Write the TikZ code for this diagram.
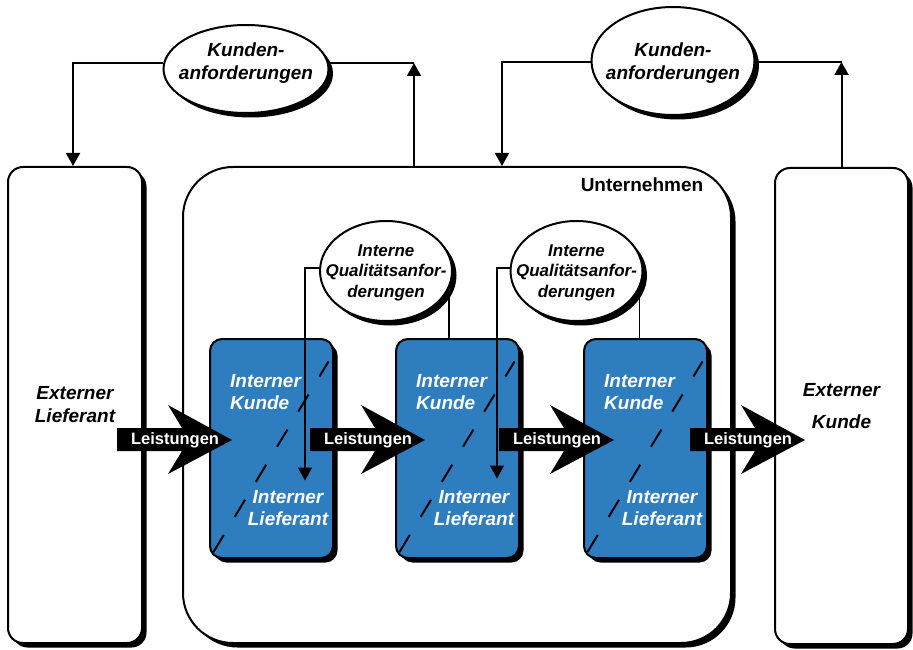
\documentclass[tikz,border=0pt]{standalone}
\usepackage{fontspec}
\setmainfont{Liberation Sans}
\usetikzlibrary{shapes.geometric,shadows,arrows.meta,calc}
\definecolor{boxblue}{HTML}{2E7DBF}
\begin{document}
\begin{tikzpicture}[x=1pt,y=-1pt,
  shad/.style={drop shadow={shadow xshift=4.5pt,shadow yshift=-4.5pt,fill=black,opacity=1}},
  bigtxt/.style={font=\bfseries\itshape\fontsize{19}{23}\selectfont,align=center},
  qtxt/.style={font=\bfseries\itshape\fontsize{17}{20.5}\selectfont,align=center},
  outer/.style={draw,line width=2pt,fill=white,rounded corners=15pt,shad,bigtxt},
  kell/.style={ellipse,draw,line width=2pt,fill=white,shad,inner sep=0pt},
  bluebox/.style={draw,line width=2pt,fill=boxblue,rounded corners=12pt,shad,
    minimum width=123pt,minimum height=219pt},
  wtxt/.style={text=white,font=\bfseries\itshape\fontsize{19}{22}\selectfont,inner sep=0pt},
  dashline/.style={line width=2pt,dash pattern=on 20pt off 21pt},
  conn/.style={line width=2pt},
  iconn/.style={line width=1.5pt},
  tri/.style={-{Triangle[width=14pt,length=13pt]}},
  lst/.style={text=white,font=\bfseries\fontsize{16.5}{20}\selectfont,inner sep=0pt}
]
\useasboundingbox (0,0) rectangle (913,650);

% outer boxes
\node[outer,minimum width=134pt,minimum height=476pt] (el) at (75,405) {Externer\\Lieferant};
\node[outer,rounded corners=50pt,minimum width=548pt,minimum height=476pt] (U) at (457,405) {};
\node[font=\bfseries\fontsize{19}{23}\selectfont,inner sep=0pt] (ut) at (642,185) {Unternehmen};
\node[outer,minimum width=133pt,minimum height=476pt] (ek) at (841.5,406) {Externer\\[9pt]Kunde};

% top ellipses
\node[kell,minimum width=165pt,minimum height=88pt,
  label={[bigtxt,yshift=5.5pt]center:{Kunden-\\anforderungen}}] (k1) at (246,69) {};
\node[kell,minimum width=163pt,minimum height=108pt,
  label={[bigtxt,yshift=-2.5pt]center:{Kunden-\\anforderungen}}] (k2) at (673,61) {};

\coordinate (c1) at (414,63);
\coordinate (c2) at (841.5,62);
\coordinate (d2) at (502,0);
\draw[conn,tri] ($(k1.west)+(0,-6)$) -| ($(el.north)+(-2,0)$);
\draw[conn] ($(k1.east)+(0,-6)$) -- (c1);
\draw[conn,tri] (U.north -| c1) -- (c1);
\draw[conn,tri] ($(k2.west)+(0,1)$) -| (d2 |- U.north);
\draw[conn] ($(k2.east)+(0,1)$) -- (c2);
\draw[conn,tri] (ek.north) -- (c2);

% internal quality ellipses
\node[kell,minimum width=132pt,minimum height=100pt,
  label={[qtxt,yshift=-1.5pt]center:{Interne\\Qualitätsanfor-\\derungen}}] (q1) at (386,271) {};
\node[kell,minimum width=132pt,minimum height=100pt,
  label={[qtxt,yshift=-1.5pt]center:{Interne\\Qualitätsanfor-\\derungen}}] (q2) at (576.5,271) {};

% blue boxes
\node[bluebox] (b1) at (271.5,448.5) {};
\node[bluebox] (b2) at (457.5,448.5) {};
\node[bluebox] (b3) at (645.5,448.5) {};

\foreach \b in {b1,b2,b3}{
  \draw[dashline] ($(\b.center)+(-58,103.5)$) -- ($(\b.center)+(57,-87)$);
  \node[wtxt,anchor=west,align=left] (\b k) at ($(\b.center)+(-41.5,-56.5)$) {Interner\\Kunde};
  \node[wtxt,align=center] (\b l) at ($(\b.center)+(16.5,59.5)$) {Interner\\Lieferant};
}

% internal connectors
\coordinate (t1) at ($(b1.center)+(33.5,32)$);
\coordinate (t2) at ($(b2.center)+(39.5,30)$);
\draw[iconn,tri] ($(q1.west)+(0,-3)$) -| (t1);
\draw[iconn] (q1.-15) -- (q1.-15 |- b2.north);
\draw[iconn,tri] ($(q2.west)+(0,-3)$) -| (t2);
\draw[iconn] (q2.-15) -- (q2.-15 |- b3.north);

% Leistungen arrows
\foreach \L/\n in {117/a1,310/a2,499/a3,690/a4}{
  \fill (\L,428) -- (\L+65,428) -- (\L+51,405) -- (\L+115,440) -- (\L+51,474) -- (\L+65,451) -- (\L,451) -- cycle;
  \node[lst] (\n) at (\L+58,440) {Leistungen};
}
\end{tikzpicture}
\end{document}
